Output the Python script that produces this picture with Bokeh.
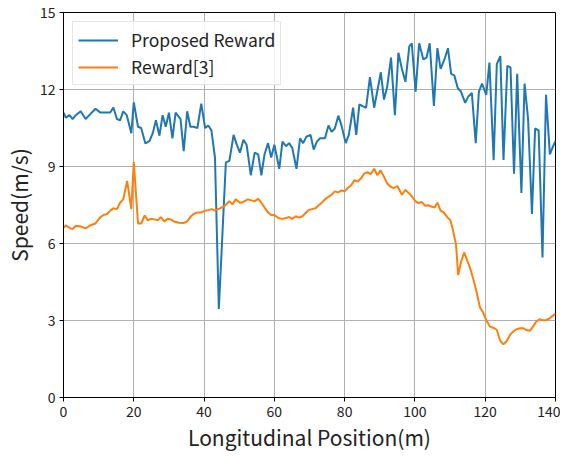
from bokeh.plotting import figure
from bokeh.models import Range1d, FixedTicker, Legend, LegendItem
from bokeh.embed import file_html
from bokeh.resources import INLINE

# ---- data ----
proposed_x = [0, 0.7, 1.7, 2.6, 3.5, 4.9, 6.3, 7.7, 9.1, 10.5, 11.9, 13.3, 14.2, 15.2, 16.1, 17.0, 18.0, 19.3,
              20.0, 21.2, 22.1, 23.3, 24.5, 25.4, 26.3, 27.3, 28.2, 29.1, 30.0, 31.0, 31.9, 33.3, 34.2, 35.2,
              36.1, 37.0, 38.1, 39.2, 40.3, 41.2, 42.1, 43.1, 44.2, 46.2, 47.2, 48.4, 49.3, 50.2, 51.2, 52.1,
              53.3, 54.4, 55.4, 56.3, 57.2, 58.2, 59.1, 60.0, 61.4, 62.3, 63.3, 64.2, 65.1, 66.3, 67.3, 68.2,
              69.1, 70.3, 71.2, 72.1, 73.0, 74.4, 75.4, 76.3, 77.2, 78.2, 79.1, 80.3, 81.2, 82.4, 83.3, 84.2,
              85.1, 86.1, 87.2, 88.4, 90.3, 91.2, 92.1, 93.2, 94.3, 95.3, 96.3, 97.3, 98.4, 99.1, 100.2, 101.2,
              102.4, 103.3, 104.2, 105.4, 106.4, 107.3, 108.4, 109.4, 110.3, 111.2, 112.2, 113.1, 114.3, 115.2,
              116.2, 117.3, 118.2, 119.1, 120.3, 121.2, 122.4, 123.3, 124.3, 125.2, 126.3, 127.2, 128.2, 129.1,
              130.3, 131.2, 132.2, 133.3, 134.2, 135.2, 136.3, 137.3, 138.4, 139.1, 140.0]
proposed_v = [11.1, 10.9, 11.0, 10.85, 11.0, 11.15, 10.85, 11.05, 11.25, 11.1, 11.1, 11.1, 11.3, 10.85, 10.8,
              11.15, 11.0, 10.3, 11.5, 10.55, 10.5, 9.9, 10.0, 10.3, 10.8, 10.2, 11.0, 10.55, 11.1, 10.1, 11.1,
              10.85, 9.6, 11.15, 10.55, 10.55, 10.5, 11.45, 10.5, 10.6, 10.4, 9.35, 3.45, 9.16, 9.22, 10.23,
              9.85, 9.54, 10.04, 9.85, 8.66, 9.54, 9.47, 8.66, 9.47, 9.91, 9.35, 9.85, 8.91, 9.97, 9.79, 9.91,
              9.72, 8.91, 10.1, 9.91, 10.16, 10.23, 9.66, 9.97, 10.1, 10.1, 10.6, 10.35, 10.48, 10.98, 10.6,
              9.91, 10.23, 11.29, 10.23, 11.42, 11.35, 11.29, 12.48, 11.29, 12.67, 11.61, 12.1, 13.24, 11.0,
              13.43, 12.8, 12.3, 13.68, 13.8, 11.92, 13.8, 13.17, 13.24, 13.8, 11.36, 13.61, 12.8, 13.17, 13.61,
              12.61, 12.55, 12.05, 11.92, 11.48, 11.73, 11.86, 9.91, 11.92, 12.23, 11.79, 13.05, 9.25, 12.99,
              13.3, 9.25, 12.92, 12.86, 8.72, 12.61, 7.97, 12.23, 10.85, 7.15, 10.48, 10.41, 5.46, 11.79, 9.47,
              9.72, 10.0]

baseline_x = [0, 0.7, 1.7, 2.6, 3.5, 4.9, 6.3, 7.7, 9.1, 10.5, 11.4, 12.4, 13.3, 14.2, 15.2, 16.1, 17.0, 18.1,
              19.3, 20.0, 21.2, 22.1, 23.1, 24.0, 24.9, 25.9, 26.8, 27.7, 28.7, 29.6, 30.5, 31.4, 32.8, 34.2,
              35.2, 36.1, 37.0, 38.1, 39.2, 40.3, 41.2, 42.1, 43.1, 44.5, 45.9, 47.2, 48.1, 49.0, 50.2, 51.2,
              52.4, 53.5, 54.4, 55.4, 56.3, 57.2, 58.2, 59.1, 60.0, 61.1, 62.3, 63.3, 64.2, 65.1, 66.1, 67.0,
              68.0, 68.9, 69.8, 70.7, 71.7, 72.6, 73.5, 74.4, 75.4, 76.3, 77.2, 78.2, 79.1, 80.0, 80.9, 81.9,
              82.8, 83.7, 84.6, 85.6, 86.5, 87.4, 88.4, 89.3, 90.2, 91.2, 92.1, 93.0, 94.0, 95.0, 96.3, 97.3,
              98.2, 99.1, 100.1, 101.0, 101.9, 102.9, 103.8, 104.7, 105.6, 106.4, 107.3, 108.2, 109.2, 110.1,
              110.7, 111.7, 112.3, 113.1, 114.0, 114.9, 115.9, 116.8, 117.7, 118.5, 119.4, 120.3, 121.4, 122.6,
              123.3, 124.3, 125.2, 126.1, 127.1, 128.0, 128.9, 129.9, 130.8, 131.7, 132.7, 133.6, 134.5, 135.4,
              136.4, 137.3, 138.2, 139.1, 140.0]
baseline_v = [6.61, 6.71, 6.61, 6.56, 6.69, 6.66, 6.59, 6.71, 6.78, 7.03, 7.11, 7.15, 7.28, 7.37, 7.34, 7.59,
              7.72, 8.44, 7.34, 9.18, 6.78, 6.78, 7.09, 6.9, 6.96, 6.94, 6.9, 7.03, 6.86, 6.96, 6.94, 6.86, 6.81,
              6.8, 6.86, 7.03, 7.15, 7.21, 7.21, 7.28, 7.3, 7.34, 7.28, 7.37, 7.47, 7.65, 7.53, 7.72, 7.59, 7.62,
              7.72, 7.68, 7.65, 7.74, 7.59, 7.4, 7.21, 7.11, 7.11, 6.99, 6.96, 6.99, 7.03, 6.96, 7.06, 7.01,
              7.06, 7.19, 7.31, 7.34, 7.37, 7.49, 7.59, 7.72, 7.82, 7.9, 8.03, 7.99, 8.07, 8.03, 8.16, 8.28,
              8.47, 8.41, 8.53, 8.72, 8.78, 8.7, 8.91, 8.66, 8.85, 8.6, 8.34, 8.22, 8.16, 8.24, 7.9, 8.09, 7.97,
              7.84, 7.65, 7.57, 7.62, 7.47, 7.49, 7.44, 7.4, 7.59, 7.28, 7.21, 7.03, 6.9, 6.59, 5.96, 4.77, 5.27,
              5.65, 5.33, 4.96, 4.52, 4.02, 3.51, 3.32, 3.01, 2.76, 2.7, 2.63, 2.2, 2.07, 2.2, 2.45, 2.57, 2.66,
              2.7, 2.7, 2.63, 2.6, 2.76, 2.95, 3.05, 3.01, 3.01, 3.07, 3.17, 3.26]

x_ticks = [0, 20, 40, 60, 80, 100, 120, 140]
y_ticks = [0, 3, 6, 9, 12, 15]
series_labels = ["Proposed Reward", "Reward[3]"]

FONT = "Noto Sans CJK KR"

p = figure(width=560, height=454, output_backend="svg", toolbar_location=None,
           x_range=Range1d(0, 140), y_range=Range1d(0, 15),
           min_border_left=58, min_border_right=5, min_border_top=12, min_border_bottom=54)

p.outline_line_color = "black"
p.outline_line_width = 1
p.background_fill_color = "white"
p.border_fill_color = "white"

for ax in (p.xaxis[0], p.yaxis[0]):
    ax.axis_line_color = "black"
    ax.major_tick_line_color = "black"
    ax.major_tick_out = 4
    ax.major_tick_in = 0
    ax.minor_tick_line_color = None
    ax.major_label_text_font = FONT
    ax.major_label_text_font_size = "14px"
    ax.major_label_text_color = "#222222"
    ax.axis_label_text_font = FONT
    ax.axis_label_text_font_size = "21px"
    ax.axis_label_text_font_style = "normal"
    ax.axis_label_text_color = "#222222"

p.xaxis.ticker = FixedTicker(ticks=x_ticks)
p.yaxis.ticker = FixedTicker(ticks=y_ticks)
p.xaxis.axis_label = "Longitudinal Position(m)"
p.yaxis.axis_label = "Speed(m/s)"
p.xaxis.axis_label_standoff = 2
p.yaxis.axis_label_standoff = 3
p.xaxis.major_label_standoff = 4
p.yaxis.major_label_standoff = 4

p.xgrid.grid_line_color = "#b0b0b0"
p.ygrid.grid_line_color = "#b0b0b0"
p.xgrid.grid_line_width = 1
p.ygrid.grid_line_width = 1

r1 = p.line(proposed_x, proposed_v, line_color="#1f77b4", line_width=2)
r2 = p.line(baseline_x, baseline_v, line_color="#ff7f0e", line_width=2)

legend = Legend(items=[LegendItem(label=series_labels[0], renderers=[r1]),
                       LegendItem(label=series_labels[1], renderers=[r2])],
                location="top_left")
legend.label_text_font = FONT
legend.label_text_font_size = "17.5px"
legend.label_text_color = "#222222"
legend.glyph_width = 40
legend.glyph_height = 22
legend.label_height = 22
legend.label_standoff = 13
legend.spacing = 2
legend.padding = 5
legend.margin = 9
legend.border_line_color = "#cccccc"
legend.background_fill_alpha = 0.85
p.add_layout(legend)

open("out.html", "w").write(file_html(p, INLINE))
